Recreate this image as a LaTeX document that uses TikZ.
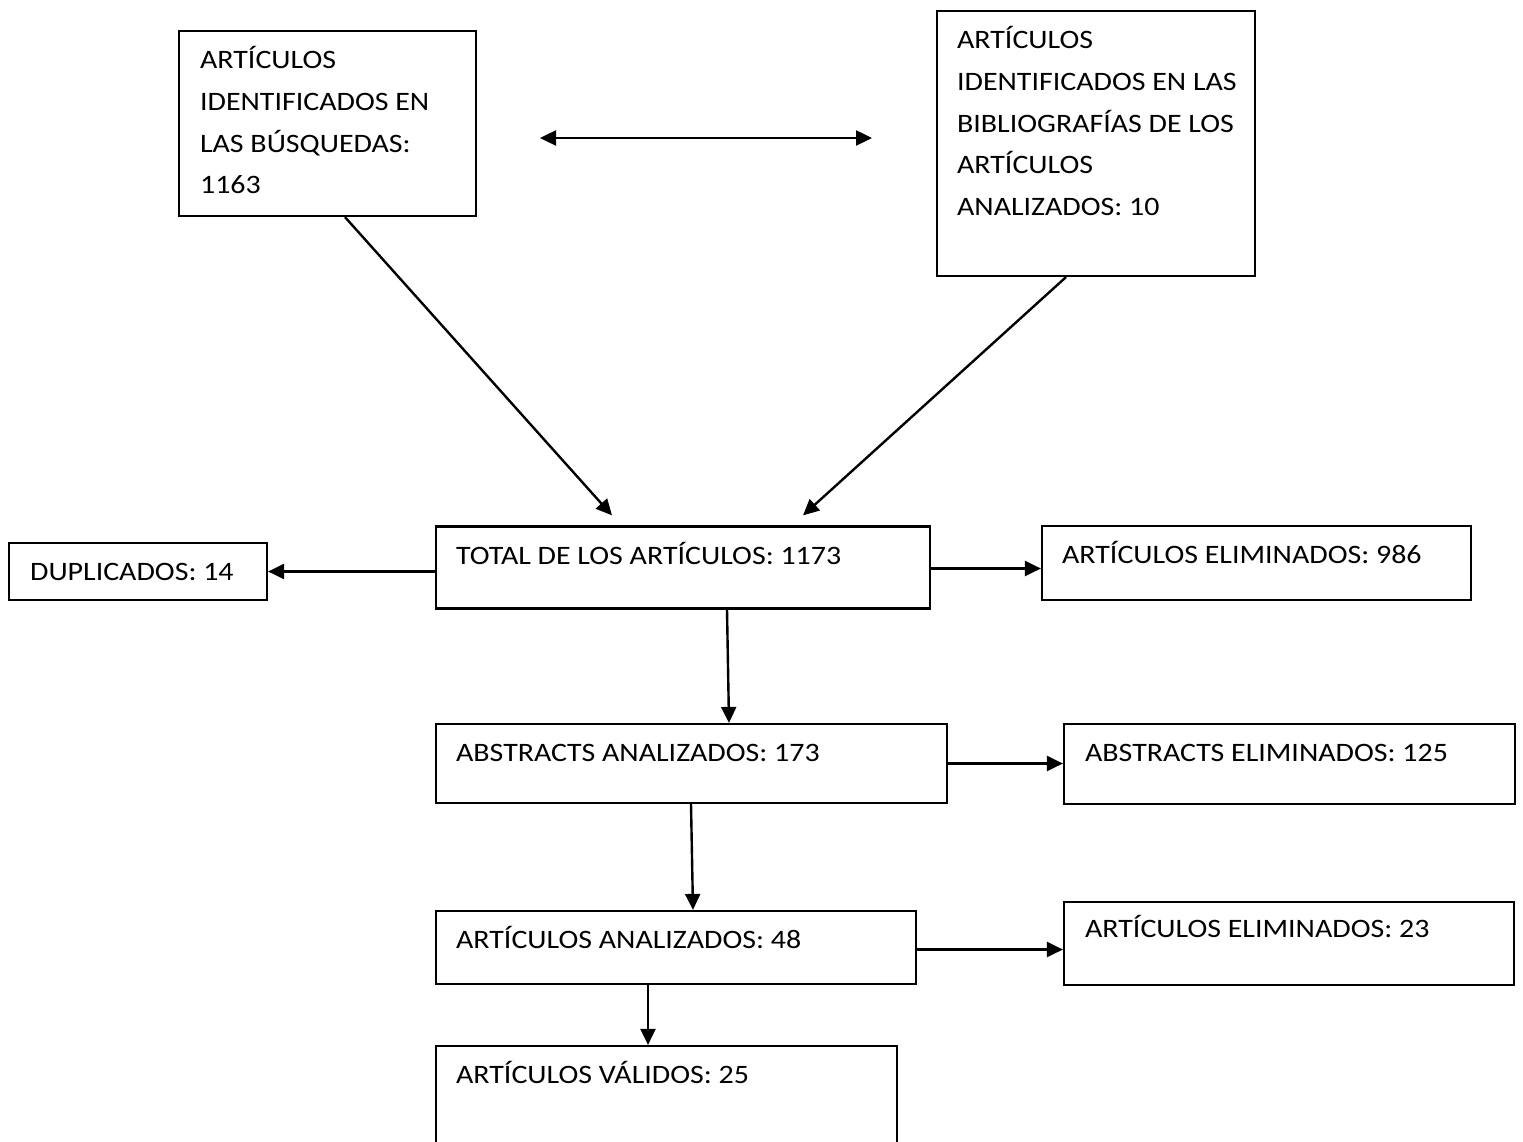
\documentclass[tikz,border=0pt]{standalone}
\usepackage{fontspec}
\setmainfont[FakeStretch=1.125]{Carlito}
\usetikzlibrary{arrows.meta}
\begin{document}
\begin{tikzpicture}[x=1pt,y=-1pt,
  box/.style={draw=black,line width=2.2pt,rectangle,inner sep=0pt},
  txt/.style={anchor=base west,inner sep=0pt,font=\fontsize{26.6}{41.6}\selectfont},
  arr/.style={line width=2.4pt,-{Triangle[length=16pt,width=15pt]}},
  darr/.style={line width=2.4pt,{Triangle[length=16pt,width=15pt]}-{Triangle[length=16pt,width=15pt]}}]
\clip (0,0) rectangle (1523,1142);
\fill[white] (0,0) rectangle (1523,1142);
% boxes
\node[box,minimum width=297pt,minimum height=185pt] (A) at (327.5,123.5) {};
\node[box,minimum width=318pt,minimum height=265pt] (B) at (1096,143.5) {};
\node[box,minimum width=494pt,minimum height=82pt] (Tot) at (683,567.5) {};
\node[box,minimum width=258pt,minimum height=57pt] (Dup) at (138,571.5) {};
\node[box,minimum width=429pt,minimum height=74pt] (E1) at (1256.5,563) {};
\node[box,minimum width=511pt,minimum height=79pt] (Abs) at (691.5,763.5) {};
\node[box,minimum width=451pt,minimum height=80pt] (AbsE) at (1289.5,764) {};
\node[box,minimum width=480pt,minimum height=73pt] (AA) at (676,947.5) {};
\node[box,minimum width=450pt,minimum height=83pt] (AAE) at (1289,943.5) {};
\node[box,minimum width=461pt,minimum height=140pt] (Val) at (666.5,1116) {};
% texts
\node[txt] (tA) at ([xshift=22pt,yshift=-39pt]A.north west) {\parbox[t]{290pt}{ARTÍCULOS\\IDENTIFICADOS EN\\LAS BÚSQUEDAS:\\1163}};
\node[txt] (tB) at ([xshift=21pt,yshift=-39pt]B.north west) {\parbox[t]{300pt}{ARTÍCULOS\\IDENTIFICADOS EN LAS\\BIBLIOGRAFÍAS DE LOS\\ARTÍCULOS\\ANALIZADOS: 10}};
\node[txt] (tTot) at ([xshift=21pt,yshift=-39pt]Tot.north west) {TOTAL DE LOS ARTÍCULOS: 1173};
\node[txt] (tDup) at ([xshift=22pt,yshift=-39pt]Dup.north west) {DUPLICADOS: 14};
\node[txt] (tE1) at ([xshift=21pt,yshift=-39pt]E1.north west) {ARTÍCULOS ELIMINADOS: 986};
\node[txt] (tAbs) at ([xshift=21pt,yshift=-39pt]Abs.north west) {ABSTRACTS ANALIZADOS: 173};
\node[txt] (tAbsE) at ([xshift=22pt,yshift=-39pt]AbsE.north west) {ABSTRACTS ELIMINADOS: 125};
\node[txt] (tAA) at ([xshift=21pt,yshift=-39pt]AA.north west) {ARTÍCULOS ANALIZADOS: 48};
\node[txt] (tAAE) at ([xshift=22pt,yshift=-37pt]AAE.north west) {ARTÍCULOS ELIMINADOS: 23};
\node[txt] (tVal) at ([xshift=21pt,yshift=-39pt]Val.north west) {ARTÍCULOS VÁLIDOS: 25};
% connectors
\coordinate (dl) at (540,138);
\coordinate (dr) at (872,138);
\draw[darr] (dl) -- (dr);
\draw[arr] ([xshift=17.5pt]A.south) -- ([xshift=-71pt,yshift=10pt]Tot.north);
\draw[arr] ([xshift=-30pt]B.south) -- ([xshift=120pt,yshift=10pt]Tot.north);
\draw[arr] (Tot.west |- Dup.east) -- (Dup.east);
\draw[arr] ([yshift=-1pt]Tot.east) -- ([yshift=-1pt]Tot.east -| E1.west);
\draw[arr] ([xshift=44pt]Tot.south) -- ([xshift=37.5pt]Abs.north);
\draw[arr] (Abs.east) -- (Abs.east -| AbsE.west);
\draw[arr] ([xshift=-0.5pt]Abs.south) -- ([xshift=17pt]AA.north);
\draw[arr] ([yshift=-2pt]AA.east) -- ([yshift=-2pt]AA.east -| AAE.west);
\draw[arr] ([xshift=-28pt]AA.south) -- ([xshift=-18.5pt]Val.north);
\end{tikzpicture}
\end{document}
